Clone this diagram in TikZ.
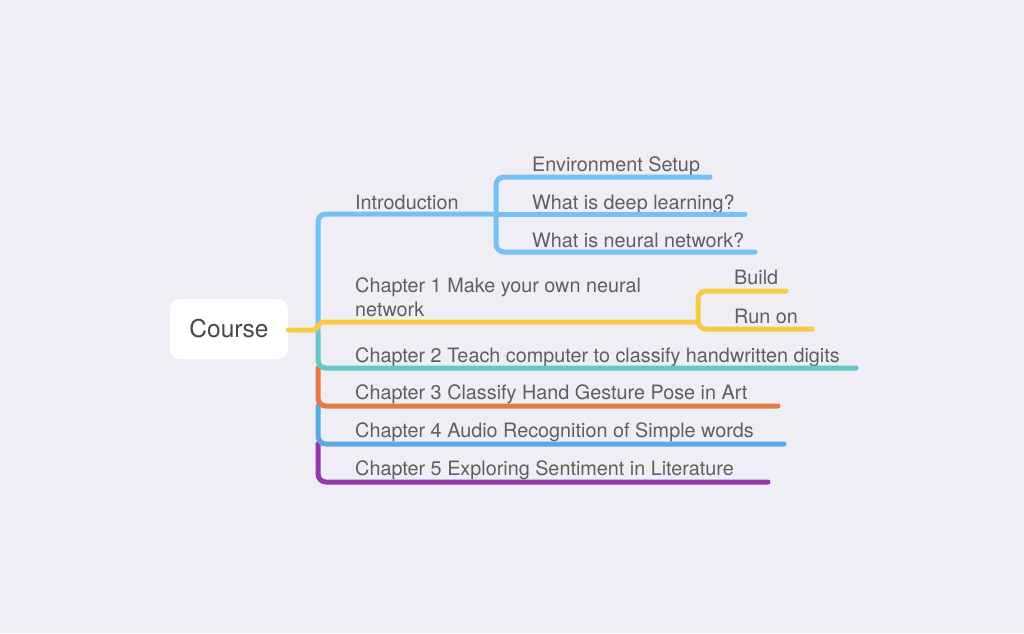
\documentclass[tikz,border=0pt]{standalone}
\usepackage{fontspec}
\setmainfont{TeX Gyre Heros}
\definecolor{bgc}{HTML}{EFEEF4}
\definecolor{txt}{HTML}{5E5E63}
\definecolor{cintro}{HTML}{74C1F6}
\definecolor{cyel}{HTML}{F9CB45}
\definecolor{cteal}{HTML}{66C7C8}
\definecolor{corange}{HTML}{E5793F}
\definecolor{cblue}{HTML}{5BA9E2}
\definecolor{cpurple}{HTML}{9239AE}
\begin{document}
\begin{tikzpicture}[x=1pt,y=-1pt,
  branch/.style={line width=5pt, rounded corners=8pt, line cap=round},
  lbl/.style={inner sep=0pt, anchor=base west, text=txt, font=\fontsize{19.8}{24}\selectfont, align=left},
  rootbox/.style={fill=white, rounded corners=10pt, minimum width=118pt, minimum height=60pt, inner sep=0pt, text=black!72, font=\fontsize{24.5}{28}\selectfont}]
\useasboundingbox (0,0) rectangle (1024,633);
\fill[bgc] (0,0) rectangle (1024,633);

% root
\node[rootbox] (root) at (229,329) {Course};

% coordinates
\coordinate (introJ) at (496,214);
\coordinate (ch1J) at (698,322);

% labels
\node[lbl] (intro) at (355,209) {Introduction};
\node[lbl] (env) at (532,171) {Environment Setup};
\node[lbl] (deep) at (532,209) {What is deep learning?};
\node[lbl] (nn) at (532,247) {What is neural network?};
\node[lbl] (ch1) at (355,316) {Chapter 1 Make your own neural\\network};
\node[lbl] (build) at (734,284) {Build};
\node[lbl] (run) at (734,323) {Run on};
\node[lbl] (ch2) at (355,362) {Chapter 2 Teach computer to classify handwritten digits};
\node[lbl] (ch3) at (355,399) {Chapter 3 Classify Hand Gesture Pose in Art};
\node[lbl] (ch4) at (355,437) {Chapter 4 Audio Recognition of Simple words};
\node[lbl] (ch5) at (355,475) {Chapter 5 Exploring Sentiment in Literature};

% connectors (bottom to top)
\draw[branch, cpurple] (318,444) -- (318,482) -- (768,482);
\draw[branch, cblue] (318,406) -- (318,444) -- (784,444);
\draw[branch, corange] (318,368) -- (318,406) -- (778,406);
\draw[branch, cteal] (318,330) -- (318,368) -- (856,368);
\draw[branch, cintro] (318,328) -- (318,214) -- (introJ);
\draw[branch, cintro] (710,177) -- (496,177) -- (496,252) -- (755,252);
\draw[branch, cintro] (introJ) -- (745,214);
\draw[branch, cyel] (786,291) -- (698,291) -- (698,329) -- (812,329);
\draw[line width=5pt, cyel, line cap=round] (root.east) ++(0,1) -- (313,330) .. controls (318,330) and (317,322) .. (325,322) -- (ch1J);
\end{tikzpicture}
\end{document}
